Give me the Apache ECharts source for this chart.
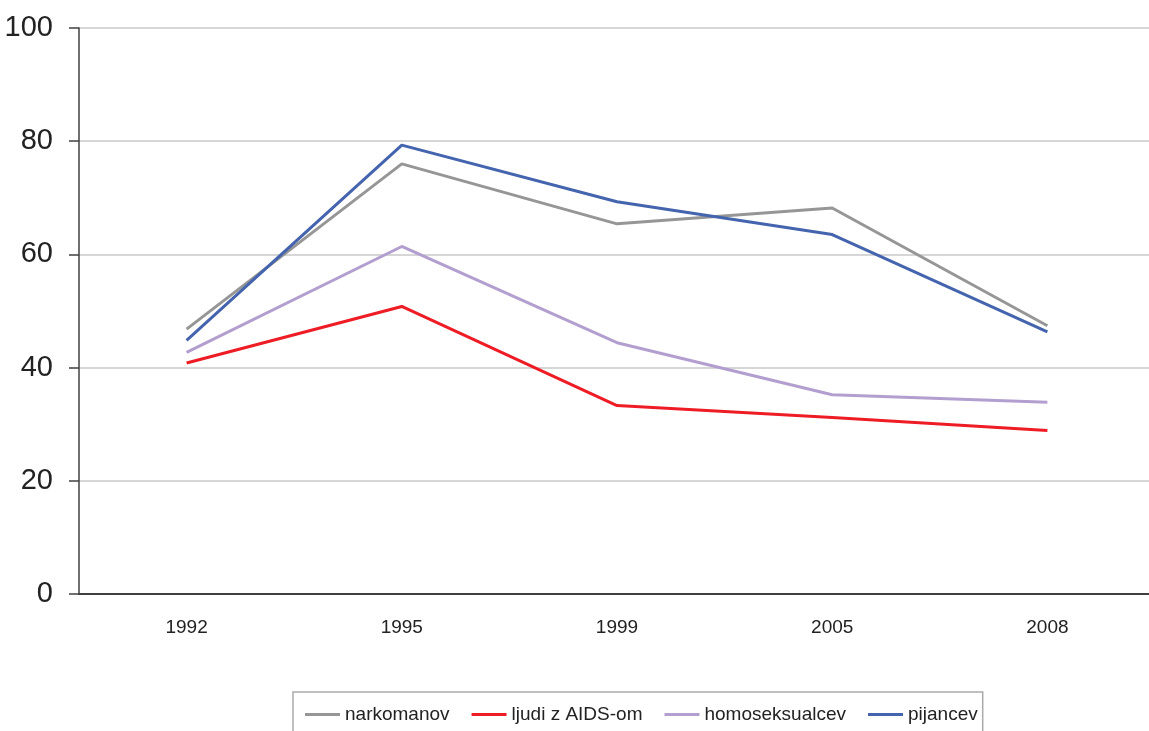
<!DOCTYPE html>
<html>
<head>
<meta charset="utf-8">
<script src="https://cdn.jsdelivr.net/npm/echarts@6/dist/echarts.min.js"></script>
<style>
  html, body { margin: 0; padding: 0; background: #fff; }
  #chart { width: 1149px; height: 731px; }
</style>
</head>
<body>
<div id="chart"></div>
<script>
// data
const years = ['1992', '1995', '1999', '2005', '2008'];
const narkomanov = [46.8, 76.0, 65.4, 68.2, 47.4];
const ljudiAids = [40.8, 50.8, 33.3, 31.2, 28.9];
const homoseksualcev = [42.7, 61.4, 44.4, 35.2, 33.9];
const pijancev = [44.8, 79.3, 69.3, 63.5, 46.3];
const yTicks = [0, 20, 40, 60, 80, 100];

const font = '"Liberation Sans", Arial, sans-serif';

function line (name, data, color) {
  return {
    name: name,
    type: 'line',
    data: data,
    symbol: 'none',
    lineStyle: { color: color, width: 3 },
    itemStyle: { color: color }
  };
}

let myChart = echarts.init(document.getElementById('chart'));
myChart.setOption({
  animation: false,
  grid: {
    left: 79,
    top: 28,
    width: 1076,
    height: 566,
    outerBoundsMode: 'none',
    containLabel: false
  },
  xAxis: {
    type: 'category',
    data: years,
    boundaryGap: true,
    axisLine: { lineStyle: { color: '#404040', width: 2 } },
    axisTick: { length: 7, lineStyle: { color: '#404040', width: 1.5 } },
    axisLabel: { margin: 24, color: '#222', fontSize: 19, fontFamily: font }
  },
  yAxis: {
    type: 'value',
    min: yTicks[0],
    max: yTicks[yTicks.length - 1],
    interval: 20,
    axisLine: { show: true, lineStyle: { color: '#404040', width: 1.5 } },
    axisTick: { show: true, length: 10, lineStyle: { color: '#404040', width: 1.5 } },
    axisLabel: { margin: 26, color: '#222', fontSize: 29, fontFamily: font },
    splitLine: { lineStyle: { color: '#c8c8c8', width: 1.5 } }
  },
  legend: {
    left: 293,
    top: 692,
    orient: 'horizontal',
    icon: 'rect',
    itemWidth: 35,
    itemHeight: 3,
    itemGap: 22,
    padding: [13, 5, 16, 12],
    borderColor: '#aaaaaa',
    borderWidth: 1.5,
    textStyle: { color: '#222', fontSize: 19, fontFamily: font },
    data: ['narkomanov', 'ljudi z AIDS-om', 'homoseksualcev', 'pijancev']
  },
  series: [
    line('narkomanov', narkomanov, '#969696'),
    line('ljudi z AIDS-om', ljudiAids, '#ee1c25'),
    line('homoseksualcev', homoseksualcev, '#b39fcf'),
    line('pijancev', pijancev, '#4464ae')
  ]
});
</script>
</body>
</html>
